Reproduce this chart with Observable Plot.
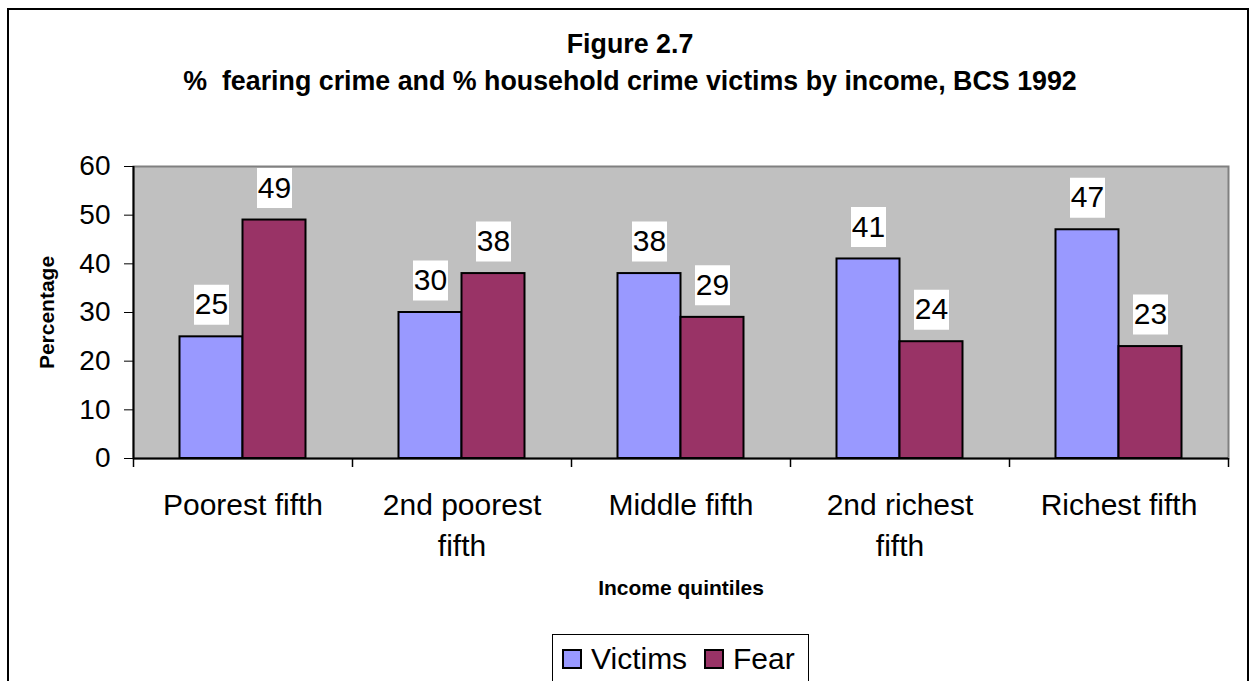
<!DOCTYPE html>
<html>
<head>
<meta charset="utf-8">
<script src="https://cdn.jsdelivr.net/npm/d3@7"></script>
<script src="https://cdn.jsdelivr.net/npm/@observablehq/plot@0.6"></script>
<style>
  html, body { margin: 0; padding: 0; background: #fff; overflow: hidden; }
  body { width: 1249px; height: 681px; position: relative; font-family: Arial, "Liberation Sans", sans-serif; color: #000; }
  #border { position: absolute; left: 7px; top: 8px; width: 1242px; height: 720px; border: 2px solid #000; box-sizing: border-box; }
  .ttl { position: absolute; left: 7px; width: 1246px; text-align: center; font-weight: bold; font-size: 26.8px; line-height: 30px; white-space: pre; }
  #chart { position: absolute; left: 0; top: 150px; }
  #legend { position: absolute; left: 552px; top: 634px; width: 257px; height: 80px; border: 1px solid #000; box-sizing: border-box; background: #fff; }
  .item { position: absolute; top: 12px; height: 24px; display: flex; align-items: center; font-size: 30px; line-height: 24px; }
  .sw { width: 20px; height: 20px; border: 2px solid #000; box-sizing: border-box; margin-right: 9px; }
</style>
</head>
<body>
<div id="border"></div>
<div class="ttl" id="title" style="top:29px"></div>
<div class="ttl" id="subtitle" style="top:66px"></div>
<div id="chart"></div>
<div id="legend"></div>
<script>
const titleText = "Figure 2.7";
const subtitleText = "%  fearing crime and % household crime victims by income, BCS 1992";
const categories = ["Poorest fifth", "2nd poorest fifth", "Middle fifth", "2nd richest fifth", "Richest fifth"];
const categoryLabels = ["Poorest fifth", "2nd poorest\nfifth", "Middle fifth", "2nd richest\nfifth", "Richest fifth"];
const series = ["Victims", "Fear"];
const victims = [25, 30, 38, 41, 47];
const fear = [49, 38, 29, 24, 23];
const seriesColors = ["#9999ff", "#993366"];
const yTicks = [0, 10, 20, 30, 40, 50, 60];
const yLabel = "Percentage";
const xLabel = "Income quintiles";

document.getElementById("title").textContent = titleText;
document.getElementById("subtitle").textContent = subtitleText;

const values = {Victims: victims, Fear: fear};
const data = categories.flatMap((c, i) => series.map(s => ({category: c, series: s, value: values[s][i]})));

const W = 1249, mL = 133, mR = 21;
const step = (W - mL - mR) / categories.length;
const half = step / 2;
const barW = 63;
const font = "Arial, 'Liberation Sans', sans-serif";
const labelBox = {draw(ctx) { ctx.rect(-17.5, -20, 35, 40); }};

const seriesMarks = series.flatMap((s, k) => {
  const rows = data.filter(d => d.series === s);
  const dx = (k === 0 ? -1 : 1) * barW / 2;
  return [
    Plot.barY(rows, {x: "category", y: "value", fill: "series", stroke: "#000", strokeWidth: 2,
      insetLeft: k === 0 ? half - barW : half, insetRight: k === 0 ? half : half - barW}),
    Plot.dot(rows, {x: "category", y: "value", dx, dy: -32, symbol: labelBox, fill: "#fff", stroke: "none", r: 10}),
    Plot.text(rows, {x: "category", y: "value", dx, dy: -32, text: d => String(d.value), fontSize: 30, fill: "#000"})
  ];
});

const chart = Plot.plot({
  width: W,
  height: 458,
  marginLeft: mL,
  marginRight: mR,
  marginTop: 16,
  marginBottom: 150,
  style: {fontFamily: font, background: "transparent", color: "#000", overflow: "visible"},
  x: {domain: categories, padding: 0, axis: null},
  y: {domain: [0, 60], axis: null},
  color: {domain: series, range: seriesColors},
  marks: [
    Plot.frame({fill: "#c0c0c0", stroke: "#808080", strokeWidth: 2}),
    ...seriesMarks,
    Plot.ruleY([0], {stroke: "#000", strokeWidth: 2}),
    Plot.ruleX([categories[0]], {dx: -half, stroke: "#000", strokeWidth: 2}),
    Plot.ruleX(categories, {x: d => d, y1: 0, y2: 0, dx: -half, insetBottom: -9, stroke: "#000", strokeWidth: 1.5}),
    Plot.ruleX([categories[categories.length - 1]], {x: d => d, y1: 0, y2: 0, dx: half, insetBottom: -9, stroke: "#000", strokeWidth: 1.5}),
    Plot.axisY(yTicks, {tickSize: 9, tickPadding: 14, fontSize: 28, label: null, stroke: "#000", fill: "#000"}),
    Plot.axisX({tickSize: 0, tickPadding: 28, fontSize: 30, lineHeight: 1.36, label: null, fill: "#000",
      tickFormat: d => categoryLabels[categories.indexOf(d)]}),
    Plot.text([yLabel], {text: d => d, frameAnchor: "left", textAnchor: "middle", dx: -86, rotate: -90, fontSize: 21, fontWeight: "bold", fill: "#000"}),
    Plot.text([xLabel], {text: d => d, frameAnchor: "bottom", textAnchor: "middle", dy: 136, fontSize: 21, fontWeight: "bold", fill: "#000"})
  ]
});
document.getElementById("chart").appendChild(chart);

// legend
const legend = document.getElementById("legend");
const itemLeft = [9, 151];
series.forEach((s, k) => {
  const item = document.createElement("div");
  item.className = "item";
  item.style.left = itemLeft[k] + "px";
  const sw = document.createElement("span");
  sw.className = "sw";
  sw.style.background = seriesColors[k];
  const tx = document.createElement("span");
  tx.textContent = s;
  item.appendChild(sw);
  item.appendChild(tx);
  legend.appendChild(item);
});
</script>
</body>
</html>
